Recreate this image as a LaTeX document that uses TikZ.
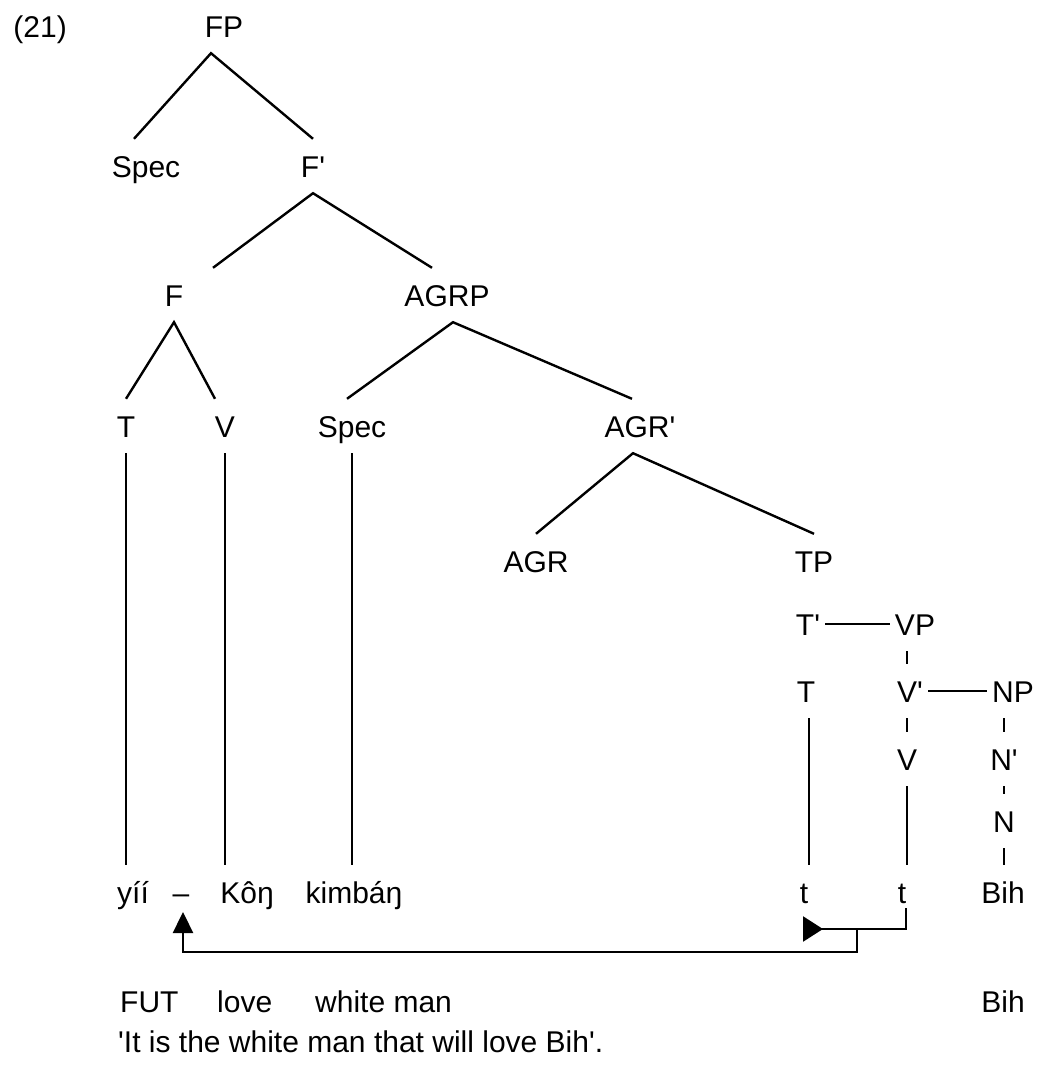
\documentclass[tikz,border=0pt]{standalone}
\usepackage{fontspec}
\setmainfont{Liberation Sans}
\usetikzlibrary{arrows.meta,calc}
\newcommand{\pr}{\textquotesingle}

\begin{document}
\begin{tikzpicture}[x=1pt,y=-1pt,
		cat/.style={font=\fontsize{30}{36}\selectfont,text height=22pt,text depth=0pt,inner xsep=5pt,inner ysep=16pt,anchor=base},
		gloss/.style={font=\fontsize{30}{36}\selectfont,inner sep=0pt,anchor=base west},
		branch/.style={line width=2.4pt}]
	\useasboundingbox (0,0) rectangle (1046,1066);

	\node[gloss,anchor=base east] (ex) at (67,37) {(21)};

	\node[cat] (fp) at (224,37) {FP};
	\node[cat] (specA) at (146,177) {Spec};
	\node[cat] (fbar) at (313,177) {F\pr};
	\node[cat] (f) at (174,306) {F};
	\node[cat] (agrp) at (447,306) {AGRP};
	\node[cat] (tA) at (126,437) {T};
	\node[cat] (vA) at (225,437) {V};
	\node[cat] (specB) at (352,437) {Spec};
	\node[cat] (agrbar) at (640,437) {AGR\pr};
	\node[cat] (agr) at (536,572) {AGR};
	\node[cat] (tp) at (814,572) {TP};

	\node[cat] (tbar) at (808,635) {T\pr};
	\node[cat] (vp) at (915,635) {VP};
	\node[cat] (tB) at (806,702) {T};
	\node[cat] (vbar) at (910,702) {V\pr};
	\node[cat] (np) at (1013,702) {NP};
	\node[cat] (vB) at (907,770) {V};
	\node[cat] (nbar) at (1004,770) {N\pr};
	\node[cat] (n) at (1004,832) {N};

	\node[cat] (yii) at (133,903) {yíí};
	\node[cat] (dash) at (181,903) {--};
	\node[cat] (kon) at (247,903) {Kôŋ};
	\node[cat] (kimban) at (354,903) {kimbáŋ};
	\node[cat] (tlowA) at (804,903) {t};
	\node[cat] (tlowB) at (902,903) {t};
	\node[cat] (bih) at (1003,903) {Bih};

	\node[gloss] (fut) at (120,1012) {FUT};
	\node[gloss] (love) at (217,1012) {love};
	\node[gloss] (whiteman) at (315,1012) {white man};
	\node[gloss,anchor=base] (bihgl) at (1003,1012) {Bih};
	\node[gloss] (transl) at (118,1052) {\pr It is the white man that will love Bih\pr.};

	\draw[branch] ($(specA.north)+(-12,0)$) -- ($(fp.south)+(-13,0)$) -- (fbar.north);
	\draw[branch] ($(f.north)+(39,0)$) -- (fbar.south) -- ($(agrp.north)+(-15,0)$);
	\draw[branch] (tA.north) -- (f.south) -- ($(vA.north)+(-10,0)$);
	\draw[branch] ($(specB.north)+(-5,0)$) -- ($(agrp.south)+(6,0)$) -- ($(agrbar.north)+(-8,0)$);
	\draw[branch] (agr.north) -- ($(agrbar.south)+(-7,0)$) -- (tp.north);

	\draw[branch] (tA.south) -- (tA.south |- yii.north);
	\draw[branch] (vA.south) -- (vA.south |- kon.north);
	\draw[branch] (specB.south) -- (specB.south |- kimban.north);

	\draw[branch] (tbar.east) -- (vp.west);
	\draw[branch] (vbar.east) -- (np.west);
	\draw[branch] (vp.south -| vB) -- (vbar.north -| vB);
	\draw[branch] (vbar.south -| vB) -- (vB.north);
	\draw[branch] (vB.south) -- (vB.south |- tlowB.north);
	\draw[branch] ($(tB.south)+(3,0)$) -- ($(tB.south |- tlowA.north)+(3,0)$);
	\draw[branch] (np.south -| nbar) -- (nbar.north);
	\draw[branch] (nbar.south) -- (n.north);
	\draw[branch] (n.south) -- (n.south |- bih.north);

	\coordinate (tR) at (906,908);
	\coordinate (tL) at (803,929);
	\coordinate (split) at (857,929);
	\coordinate (low) at (183,952);
	\coordinate (up) at (183,912);

	\draw[branch,-{Triangle[reversed,length=20pt,width=25pt]}] (tR) |- (tL);
	\draw[branch,-{Triangle[length=21pt,width=20pt]}] (split) |- (low) -- (up);
\end{tikzpicture}
\end{document}
